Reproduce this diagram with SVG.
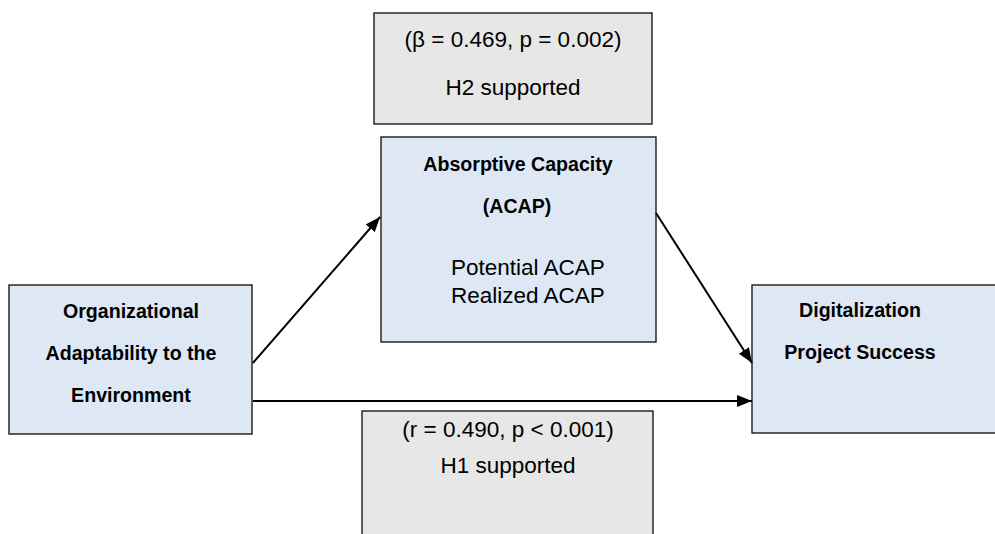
<svg xmlns="http://www.w3.org/2000/svg" width="995" height="534" viewBox="0 0 995 534">
<style>
.box{stroke:#1a1a1a;stroke-width:1.4}
.gray{fill:#e7e7e7}
.blue{fill:#dee8f5}
.t{font-family:"Liberation Sans",Arial,sans-serif;font-size:22.5px;fill:#000}
.b{font-family:"Liberation Sans",Arial,sans-serif;font-size:19.6px;font-weight:bold;fill:#000}
.c{text-anchor:middle}
.conn{stroke:#000;stroke-width:2;fill:none;marker-end:url(#arr)}
</style>
<defs>
<marker id="arr" markerUnits="userSpaceOnUse" markerWidth="16" markerHeight="12" refX="15" refY="6" orient="auto" viewBox="0 0 16 12">
<path d="M0,0 L15,6 L0,12 z" fill="#000"/>
</marker>
</defs>
<rect width="995" height="534" fill="#fff"/>
<g id="h2-label">
<rect class="box gray" x="374" y="13" width="278" height="111"/>
<text class="t c" x="513" y="47">(β = 0.469, p = 0.002)</text>
<text class="t c" x="513" y="95">H2 supported</text>
</g>
<g id="acap">
<rect class="box blue" x="381" y="137" width="275" height="205"/>
<text class="b c" x="518" y="171">Absorptive Capacity</text>
<text class="b c" x="517" y="213">(ACAP)</text>
<text class="t" x="451" y="275">Potential ACAP</text>
<text class="t" x="451" y="303">Realized ACAP</text>
</g>
<g id="oae">
<rect class="box blue" x="9" y="285" width="243" height="149"/>
<text class="b c" x="131" y="318">Organizational</text>
<text class="b c" x="131" y="360">Adaptability to the</text>
<text class="b c" x="131" y="402">Environment</text>
</g>
<g id="dps">
<rect class="box blue" x="752" y="285" width="250" height="148"/>
<text class="b c" x="860" y="317">Digitalization</text>
<text class="b c" x="860" y="359">Project Success</text>
</g>
<g id="h1-label">
<rect class="box gray" x="362" y="411" width="291" height="130"/>
<text class="t c" x="508" y="437">(r = 0.490, p &lt; 0.001)</text>
<text class="t c" x="508" y="473">H1 supported</text>
</g>
<g id="connectors">
<line class="conn" x1="253" y1="363" x2="380" y2="217"/>
<line class="conn" x1="656" y1="213" x2="752" y2="363"/>
<line class="conn" x1="253" y1="401" x2="752" y2="401"/>
</g>
</svg>
